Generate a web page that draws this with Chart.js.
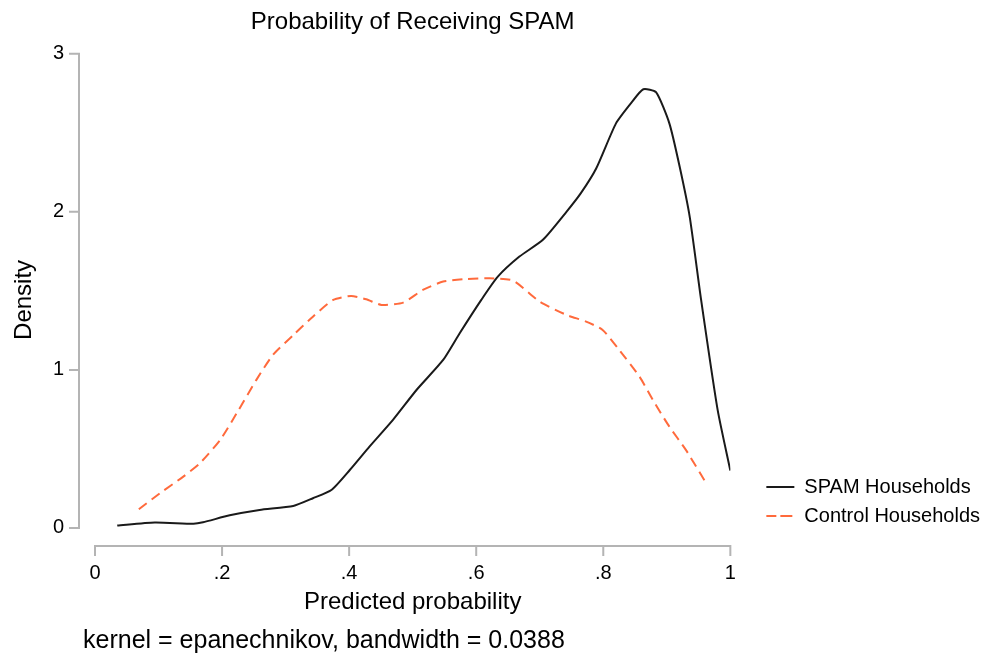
<!DOCTYPE html>
<html lang="en">
<head>
<meta charset="UTF-8">
<title>Probability of Receiving SPAM</title>
<script src="https://cdn.jsdelivr.net/npm/chart.js"></script>
<style>
  body { margin: 0; background: #fff; }
  #wrap { width: 990px; height: 663px; }
</style>
</head>
<body>
<div id="wrap"><canvas id="kdens"></canvas></div>
<script>
// kernel density estimates
const spamX = [0.035, 0.094, 0.155, 0.170, 0.212, 0.259, 0.312, 0.343, 0.372, 0.401, 0.432, 0.469, 0.506, 0.548, 0.574, 0.608, 0.634, 0.668, 0.705, 0.742, 0.765, 0.789, 0.820, 0.844, 0.863, 0.883, 0.904, 0.920, 0.936, 0.954, 0.980, 1.0];
const spamY = [0.015, 0.034, 0.027, 0.036, 0.080, 0.114, 0.139, 0.188, 0.240, 0.367, 0.515, 0.684, 0.873, 1.063, 1.232, 1.443, 1.590, 1.717, 1.823, 2.000, 2.120, 2.276, 2.560, 2.690, 2.776, 2.757, 2.560, 2.290, 1.970, 1.443, 0.747, 0.363];
const ctrlX = [0.069, 0.102, 0.139, 0.165, 0.197, 0.223, 0.254, 0.280, 0.312, 0.343, 0.375, 0.403, 0.427, 0.451, 0.485, 0.516, 0.548, 0.585, 0.621, 0.658, 0.700, 0.742, 0.773, 0.799, 0.825, 0.857, 0.878, 0.904, 0.930, 0.962];
const ctrlY = [0.118, 0.219, 0.325, 0.409, 0.557, 0.726, 0.937, 1.095, 1.220, 1.337, 1.443, 1.468, 1.447, 1.411, 1.426, 1.506, 1.559, 1.575, 1.580, 1.565, 1.432, 1.348, 1.306, 1.253, 1.127, 0.958, 0.810, 0.641, 0.494, 0.283];

const seriesNames = ['SPAM Households', 'Control Households'];
const xTicks = [0, 0.2, 0.4, 0.6, 0.8, 1];
const xTickLabels = ['0', '.2', '.4', '.6', '.8', '1'];
const yTicks = [0, 1, 2, 3];
const noteText = 'kernel = epanechnikov, bandwidth = 0.0388';

const FONT = '"Liberation Sans", Arial, sans-serif';
const AXIS_GREY = '#b4b4b4';

// stata style axes: y axis pulled away from the plot, lines only span the tick range
const stataAxes = {
    id: 'stataAxes',
    afterLayout(chart) {
        // lift the legend a bit off the plot bottom, pull the note left
        if (chart.legend) chart.legend.bottom = chart.chartArea.bottom - 11;
        const note = chart.boxes.find(b => b.options && b.options.text === noteText);
        if (note) { note.left -= 12; note.right -= 12; }
    },
    afterDraw(chart) {
        const { ctx, chartArea, scales } = chart;
        const x = scales.x, y = scales.y;
        const ax = chartArea.left - 16;
        const ay = chartArea.bottom;
        ctx.save();
        ctx.strokeStyle = AXIS_GREY;
        ctx.lineWidth = 2;
        ctx.beginPath();
        ctx.moveTo(ax, y.getPixelForValue(yTicks[0]));
        ctx.lineTo(ax, y.getPixelForValue(yTicks[yTicks.length - 1]));
        yTicks.forEach(v => {
            const py = y.getPixelForValue(v);
            ctx.moveTo(ax + 1, py);
            ctx.lineTo(ax - 10, py);
        });
        ctx.moveTo(x.getPixelForValue(xTicks[0]), ay);
        ctx.lineTo(x.getPixelForValue(xTicks[xTicks.length - 1]), ay);
        xTicks.forEach(v => {
            const px = x.getPixelForValue(v);
            ctx.moveTo(px, ay - 1);
            ctx.lineTo(px, ay + 10);
        });
        ctx.stroke();
        ctx.restore();
    }
};

const ctx = document.getElementById('kdens').getContext('2d');
new Chart(ctx, {
    type: 'line',
    data: {
        datasets: [{
            label: seriesNames[0],
            data: spamX.map((x, i) => ({ x: x, y: spamY[i] })),
            borderColor: '#1a1a1a',
            backgroundColor: '#1a1a1a',
            borderWidth: 2,
            pointRadius: 0,
            tension: 0.2
        }, {
            label: seriesNames[1],
            data: ctrlX.map((x, i) => ({ x: x, y: ctrlY[i] })),
            borderColor: '#ff6a3c',
            backgroundColor: '#ff6a3c',
            borderWidth: 2,
            borderDash: [10, 6],
            pointRadius: 0,
            tension: 0.2
        }]
    },
    options: {
        responsive: true,
        maintainAspectRatio: false,
        animation: false,
        layout: { padding: 0 },
        scales: {
            x: {
                type: 'linear',
                min: 0,
                max: 1,
                afterBuildTicks: axis => { axis.ticks = xTicks.map(v => ({ value: v })); },
                afterFit: s => { s.height = 78; },
                grid: { display: false, drawTicks: false },
                border: { display: false },
                ticks: {
                    padding: 15,
                    color: '#000',
                    font: { family: FONT, size: 20 },
                    callback: (v, i) => xTickLabels[i]
                },
                title: {
                    display: true,
                    text: 'Predicted probability',
                    color: '#000',
                    font: { family: FONT, size: 24 },
                    padding: { top: 0, bottom: 7 }
                }
            },
            y: {
                type: 'linear',
                min: -0.114,
                max: 3,
                afterBuildTicks: axis => { axis.ticks = yTicks.map(v => ({ value: v })); },
                afterFit: s => { s.width = 95; },
                grid: { display: false, drawTicks: false },
                border: { display: false },
                ticks: {
                    padding: 31,
                    color: '#000',
                    font: { family: FONT, size: 20 }
                },
                title: {
                    display: true,
                    text: 'Density',
                    color: '#000',
                    font: { family: FONT, size: 24 },
                    padding: { top: 10, bottom: 0 }
                }
            },
            // empty spacer between plot and legend
            gap: {
                type: 'linear',
                position: 'right',
                display: false,
                afterFit: s => { s.width = 27; }
            }
        },
        plugins: {
            title: {
                display: true,
                text: 'Probability of Receiving SPAM',
                color: '#000',
                fullSize: false,
                font: { family: FONT, size: 24, weight: 'normal' },
                padding: { top: 8, bottom: 17 }
            },
            subtitle: {
                display: true,
                text: noteText,
                position: 'bottom',
                align: 'start',
                fullSize: false,
                color: '#000',
                font: { family: FONT, size: 25 },
                padding: { top: 2, bottom: 7 }
            },
            legend: {
                position: 'right',
                align: 'end',
                fullSize: false,
                labels: {
                    boxWidth: 28,
                    boxHeight: 0,
                    padding: 9,
                    color: '#000',
                    font: { family: FONT, size: 20 }
                }
            },
            tooltip: { enabled: false }
        }
    },
    plugins: [stataAxes]
});
</script>
</body>
</html>
